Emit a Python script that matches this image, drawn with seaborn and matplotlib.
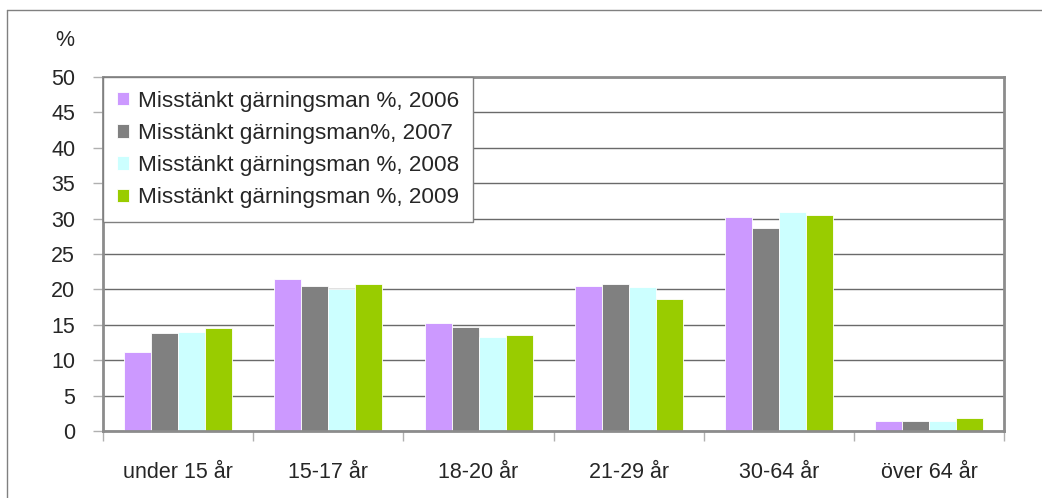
import pandas as pd
import matplotlib.pyplot as plt
import seaborn as sns
from matplotlib.lines import Line2D

# Values
categories = ["under 15 år", "15-17 år", "18-20 år", "21-29 år", "30-64 år", "över 64 år"]
series_labels = [
    "Misstänkt gärningsman %, 2006",
    "Misstänkt gärningsman%, 2007",
    "Misstänkt gärningsman %, 2008",
    "Misstänkt gärningsman %, 2009",
]
v2006 = [11.1, 21.4, 15.3, 20.5, 30.2, 1.4]
v2007 = [13.9, 20.5, 14.7, 20.7, 28.7, 1.4]
v2008 = [14.0, 20.0, 13.3, 20.3, 31.0, 1.4]
v2009 = [14.5, 20.8, 13.6, 18.7, 30.5, 1.8]
colors = ["#CC99FF", "#808080", "#CCFFFF", "#99CC00"]
y_ticks = list(range(0, 51, 5))


def main():
    rows = []
    for label, vals in zip(series_labels, [v2006, v2007, v2008, v2009]):
        for cat, v in zip(categories, vals):
            rows.append({"Ålder": cat, "Serie": label, "Procent": v})
    df = pd.DataFrame(rows)

    sns.set_style("white")
    plt.rcParams["font.family"] = ["Liberation Sans", "DejaVu Sans"]

    fig = plt.figure(figsize=(10.42, 4.98), dpi=100)
    ax = fig.add_axes([103 / 1042, 1 - 431 / 498, (1004.5 - 103) / 1042, (431 - 77) / 498])

    sns.barplot(data=df, x="Ålder", y="Procent", hue="Serie", palette=colors,
                hue_order=series_labels, order=categories, width=0.72,
                saturation=1, edgecolor="white", linewidth=0.6, ax=ax)

    ax.set_xlim(-0.5, len(categories) - 0.5)
    ax.set_ylim(0, 50)
    ax.set_yticks(y_ticks)
    ax.set_xlabel("")
    ax.set_ylabel("")

    # grid and frame
    ax.set_axisbelow(True)
    ax.yaxis.grid(True, color="#6a6a6a", linewidth=1)
    for side in ["left", "bottom", "top", "right"]:
        ax.spines[side].set_visible(True)
        ax.spines[side].set_color("#8c8c8c")
        ax.spines[side].set_linewidth(2)

    ax.tick_params(axis="y", left=True, length=7, width=1, color="#b0b0b0",
                   pad=13, labelsize=15.5)
    ax.set_xticks(range(len(categories)))
    ax.set_xticklabels(categories)
    ax.set_xticks([i - 0.5 for i in range(len(categories) + 1)], minor=True)
    ax.tick_params(axis="x", which="major", bottom=True, length=0, pad=22, labelsize=15.5)
    ax.tick_params(axis="x", which="minor", bottom=True, length=7, width=1, color="#b0b0b0")

    handles, labels = ax.get_legend_handles_labels()
    leg = ax.legend(handles, labels, loc="upper left", bbox_to_anchor=(0, 1),
                    borderaxespad=0, frameon=True, fancybox=False, framealpha=1,
                    edgecolor="#808080", fontsize=16.2, handlelength=0.55,
                    handleheight=0.55, handletextpad=0.4, labelspacing=0.5,
                    borderpad=0.6)
    leg.get_frame().set_linewidth(1)

    fig.text(65 / 1042, 1 - 40 / 498, "%", ha="center", va="center", fontsize=15.5)

    # outer chart border (top and left visible in the reference)
    fig.add_artist(Line2D([7 / 1042, 1.0], [1 - 10 / 498, 1 - 10 / 498],
                          transform=fig.transFigure, color="#808080", linewidth=1))
    fig.add_artist(Line2D([7 / 1042, 7 / 1042], [0, 1 - 10 / 498],
                          transform=fig.transFigure, color="#808080", linewidth=1))

    fig.savefig("out.png", dpi=100)


if __name__ == "__main__":
    main()
